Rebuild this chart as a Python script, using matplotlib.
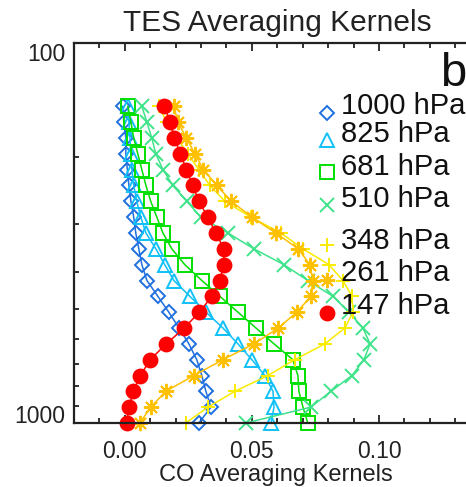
import matplotlib
matplotlib.use("Agg")
import matplotlib.pyplot as plt
from matplotlib.lines import Line2D
from matplotlib.ticker import FixedLocator, MultipleLocator, NullFormatter

plt.rcParams['font.family'] = ['Liberation Sans', 'DejaVu Sans']

# Retrieval pressure levels (hPa), surface to upper troposphere
levels = [1000, 908.5, 825.4, 749.9, 681.3, 619.0, 562.3, 510.9, 464.2, 421.7,
          383.1, 348.1, 316.2, 287.3, 261.0, 237.1, 215.4, 195.7, 177.8, 161.6, 146.8]

# CO averaging-kernel rows, one per reference level
ak_1000 = [0.0291, 0.0339, 0.0319, 0.0303, 0.0283, 0.0252, 0.0213, 0.0173, 0.0130, 0.0087,
           0.0067, 0.0055, 0.0043, 0.0035, 0.0024, 0.0016, 0.0010, 0.0004, 0.0004, -0.0004, -0.0008]
ak_825 = [0.0575, 0.0587, 0.0583, 0.0551, 0.0500, 0.0445, 0.0386, 0.0319, 0.0256, 0.0193,
          0.0157, 0.0122, 0.0083, 0.0063, 0.0047, 0.0035, 0.0028, 0.0024, 0.0020, 0.0016, 0.0012]
ak_681 = [0.0720, 0.0701, 0.0685, 0.0681, 0.0661, 0.0587, 0.0516, 0.0445, 0.0374, 0.0303,
          0.0236, 0.0185, 0.0150, 0.0126, 0.0102, 0.0083, 0.0067, 0.0051, 0.0035, 0.0024, 0.0012]
ak_510 = [0.0476, 0.0732, 0.0811, 0.0894, 0.0941, 0.0965, 0.0937, 0.0882, 0.0819, 0.0720,
          0.0626, 0.0508, 0.0406, 0.0299, 0.0244, 0.0189, 0.0150, 0.0122, 0.0106, 0.0087, 0.0067]
ak_348 = [0.0240, 0.0327, 0.0433, 0.0563, 0.0669, 0.0787, 0.0866, 0.0898, 0.0894, 0.0858,
          0.0803, 0.0701, 0.0614, 0.0496, 0.0394, 0.0335, 0.0291, 0.0248, 0.0205, 0.0165, 0.0134]
ak_261 = [0.0059, 0.0102, 0.0161, 0.0272, 0.0386, 0.0508, 0.0604, 0.0677, 0.0732, 0.0740,
          0.0728, 0.0683, 0.0594, 0.0500, 0.0419, 0.0362, 0.0309, 0.0276, 0.0242, 0.0209, 0.0193]
ak_147 = [0.0008, 0.0016, 0.0033, 0.0061, 0.0100, 0.0163, 0.0234, 0.0293, 0.0343, 0.0374,
          0.0390, 0.0390, 0.0358, 0.0327, 0.0291, 0.0268, 0.0242, 0.0219, 0.0195, 0.0179, 0.0156]

series_labels = ['1000 hPa', '825 hPa', '681 hPa', '510 hPa', '348 hPa', '261 hPa', '147 hPa']
series_values = [ak_1000, ak_825, ak_681, ak_510, ak_348, ak_261, ak_147]

# marker style for each row: (marker, colour, size, filled)
styles = [
    ('D', '#1f6fe0', 7.5, False),
    ('^', '#10c0f8', 9.5, False),
    ('s', '#00e000', 9.5, False),
    ('x', '#3ee38a', 9.5, False),
    ('+', '#f8ec00', 10.0, False),
    ((8, 2, 0), '#ffc000', 11.0, False),
    ('o', '#ff0000', 10.0, True),
]

W, H = 466, 487
fig = plt.figure(figsize=(W / 100, H / 100), dpi=100)


def fx(px):
    return px / W


def fy(py):
    return 1 - py / H


ax_left, ax_top, ax_bottom = 74, 43, 423
ax = fig.add_axes([fx(ax_left), fy(ax_bottom), 432 / W, (ax_bottom - ax_top) / H])

for vals, (mk, col, ms, filled) in zip(series_values, styles):
    ax.plot(vals, levels, color=col, lw=1.1, marker=mk, ms=ms,
            mfc=col if filled else 'none', mec=col, mew=1.4, clip_on=False)

ax.set_yscale('log')
ax.set_ylim(1000, 100)
ax.set_xlim(-0.02, 0.15)

ax.yaxis.set_major_locator(FixedLocator([100, 1000]))
ax.yaxis.set_minor_locator(FixedLocator([200, 300, 400, 500, 600, 700, 800, 900]))
ax.yaxis.set_minor_formatter(NullFormatter())
ax.set_yticklabels(['100', '1000'])
ax.xaxis.set_major_locator(FixedLocator([0.0, 0.05, 0.10]))
ax.xaxis.set_minor_locator(MultipleLocator(0.01))
ax.set_xticklabels(['0.00', '0.05', '0.10'])

ax.tick_params(which='both', direction='in', top=True, right=True, width=1.3, colors='#222222')
ax.tick_params(which='major', length=6)
ax.tick_params(which='minor', length=3.5)
ax.tick_params(axis='x', labelsize=16.5, pad=12, labelcolor='#222222')
ax.tick_params(axis='y', labelsize=16.5, pad=6, labelcolor='#222222')
ylabs = ax.get_yticklabels()
ylabs[0].set_verticalalignment('top')
ylabs[1].set_verticalalignment('baseline')
for s in ax.spines.values():
    s.set_linewidth(1.6)
    s.set_color('#222222')

fig.text(fx(277), fy(31), 'TES Averaging Kernels', fontsize=21.5, ha='center',
         va='baseline', color='#222222')
fig.text(fx(276), fy(481), 'CO Averaging Kernels', fontsize=17, ha='center',
         va='baseline', color='#222222')
fig.text(fx(440), fy(86), 'b', fontsize=34, ha='left', va='baseline', color='#111111')

# key: marker plus level name, one row each
text_rows = [106, 134, 167, 199, 241, 273, 306]
marker_rows = [113, 140, 172, 205, 245, 280, 313]
for lab, (mk, col, ms, filled), ty, my in zip(series_labels, styles, text_rows, marker_rows):
    fig.add_artist(Line2D([fx(327)], [fy(my)], transform=fig.transFigure, marker=mk,
                          ms=ms, mfc=col if filled else 'none', mec=col, mew=1.4,
                          ls='none'))
    fig.text(fx(341), fy(ty), lab, fontsize=21, ha='left', va='center', color='#111111')

fig.savefig('out.png', dpi=100)
